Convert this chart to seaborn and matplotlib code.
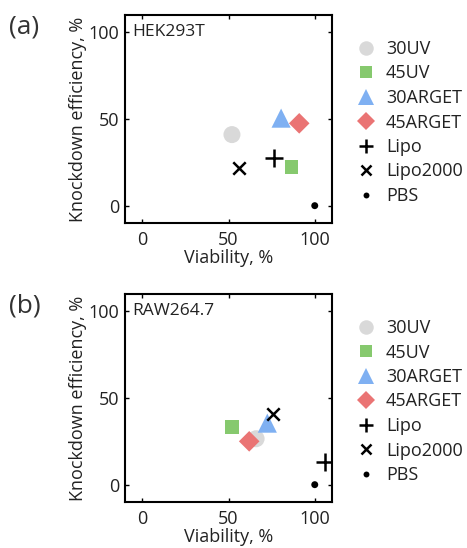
import matplotlib
matplotlib.use("Agg")
import matplotlib.pyplot as plt
from matplotlib.lines import Line2D
import seaborn as sns
import pandas as pd

sns.set_theme(style="white")
plt.rcParams["font.family"] = ["Open Sans", "DejaVu Sans"]

# Treatments and their marker styles
groups = ["30UV", "45UV", "30ARGET", "45ARGET", "Lipo", "Lipo2000", "PBS"]
colors = ["#d9d9d9", "#86c96e", "#7fb0f2", "#ea7474", "black", "black", "black"]
markers = ["o", "s", "^", "D", "+", "x", "o"]
sizes = [150, 100, 190, 110, 160, 80, 25]

# Viability (%) and knockdown efficiency (%) per treatment
hek_viability = [52, 86.5, 80.5, 91, 76.5, 56, 100]
hek_knockdown = [41, 22.5, 50.5, 47.5, 27.5, 22, 0]
raw_viability = [66, 52, 72.5, 62, 106, 76, 100]
raw_knockdown = [26.5, 33.5, 35.5, 25, 13, 40.5, 0]

panels = [
    ("(a)", "HEK293T", hek_viability, hek_knockdown, 15),
    ("(b)", "RAW264.7", raw_viability, raw_knockdown, 294),
]

W, H = 467, 548
fig = plt.figure(figsize=(W / 100, H / 100), dpi=100)

for tag, cell, vx, vy, top_px in panels:
    ax = fig.add_axes([125 / W, 1 - (top_px + 208) / H, 207 / W, 208 / H])
    df = pd.DataFrame({"Viability": vx, "Knockdown": vy, "Treatment": groups})
    for g, c, m, s in zip(groups, colors, markers, sizes):
        sub = df[df["Treatment"] == g]
        filled = m not in ("+", "x")
        sns.scatterplot(
            data=sub, x="Viability", y="Knockdown", ax=ax,
            marker=m, s=s, color=c,
            edgecolor="none" if filled else None,
            linewidth=0 if filled else 1.8,
            legend=False, zorder=3,
        )
    ax.set_xlim(-10, 110)
    ax.set_ylim(-10, 110)
    ax.set_xticks([0, 50, 100])
    ax.set_yticks([0, 50, 100])
    ax.tick_params(direction="in", length=3, width=1, colors="black",
                   top=True, right=True, bottom=True, left=True,
                   labelsize=13)
    ax.tick_params(axis="x", pad=6)
    ax.tick_params(axis="y", pad=4)
    for tl in ax.get_xticklabels() + ax.get_yticklabels():
        tl.set_color("#222222")
    for sp in ax.spines.values():
        sp.set_color("black")
        sp.set_linewidth(1.5)
    ax.set_xlabel("Viability, %", fontsize=13, labelpad=0, color="#222222")
    ax.set_ylabel("Knockdown efficiency, %", fontsize=13, labelpad=1,
                  color="#222222")
    ax.text(0.035, 0.955, cell, transform=ax.transAxes, ha="left", va="top",
            fontsize=12.5, color="#222222")
    fig.text(9 / W, 1 - (top_px + 12) / H, tag, ha="left", va="center",
             fontsize=19, color="#333333")

    handles = [
        Line2D([0], [0], linestyle="none", marker=m, color=c,
               markersize=(s ** 0.5) * 0.85,
               markeredgewidth=0 if m not in ("+", "x") else 1.8)
        for c, m, s in zip(colors, markers, sizes)
    ]
    fig.legend(handles, groups, loc="upper left",
               bbox_to_anchor=(357 / W, 1 - (top_px + 25) / H),
               frameon=False, fontsize=13, handlelength=1.0,
               handletextpad=0.6, labelspacing=0.36, borderpad=0,
               borderaxespad=0, labelcolor="#222222")

fig.savefig("out.png", dpi=100)
